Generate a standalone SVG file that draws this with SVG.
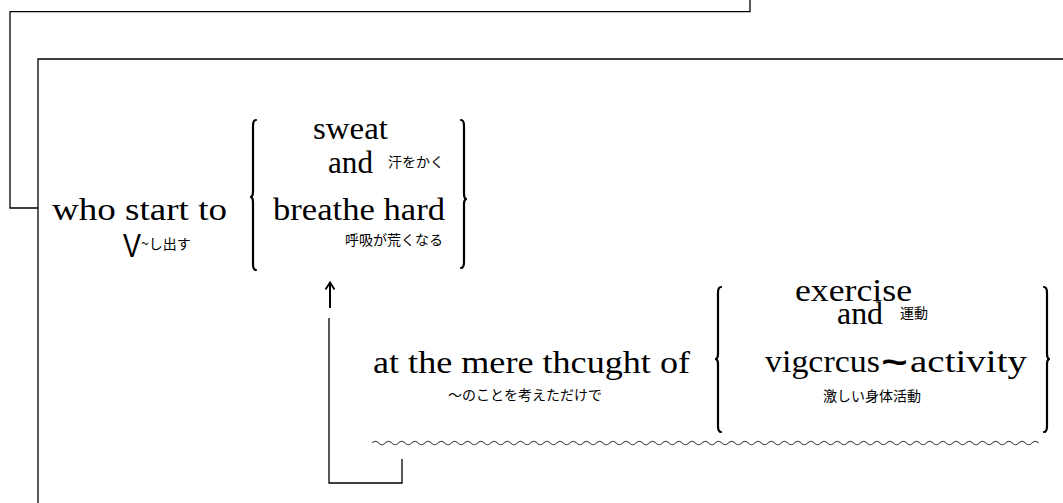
<svg xmlns="http://www.w3.org/2000/svg" width="1063" height="503" viewBox="0 0 1063 503">
<style>
.ln{fill:none;stroke:#000;stroke-width:1.3}
.br{fill:none;stroke:#000;stroke-width:2.2;stroke-linecap:round;stroke-linejoin:round}
.en{font-family:"Liberation Serif",serif;font-size:31px;fill:#000}
.jp{font-family:"Noto Sans CJK JP",sans-serif;font-size:14px;fill:#000}
.wave{fill:none;stroke:#444;stroke-width:1.1}
</style>
<rect width="1063" height="503" fill="#fff"/>
<g id="connectors">
<polyline class="ln" points="750,0 750,11.7 10,11.7 10,208 38,208"/>
<polyline class="ln" points="1063,59 38,59 38,503"/>
<polyline class="ln" points="329,318 329,483 402,483 402,459"/>
<line x1="330" y1="308" x2="330" y2="284" stroke="#000" stroke-width="2"/>
<polyline points="325.5,289.5 330,282.5 334.5,289.5" fill="none" stroke="#000" stroke-width="1.8"/>
<path class="wave" d="M372,443q3.3,-3.6 6.6,0t6.6,0t6.6,0t6.6,0t6.6,0t6.6,0t6.6,0t6.6,0t6.6,0t6.6,0
t6.6,0t6.6,0t6.6,0t6.6,0t6.6,0t6.6,0t6.6,0t6.6,0t6.6,0t6.6,0
t6.6,0t6.6,0t6.6,0t6.6,0t6.6,0t6.6,0t6.6,0t6.6,0t6.6,0t6.6,0
t6.6,0t6.6,0t6.6,0t6.6,0t6.6,0t6.6,0t6.6,0t6.6,0t6.6,0t6.6,0
t6.6,0t6.6,0t6.6,0t6.6,0t6.6,0t6.6,0t6.6,0t6.6,0t6.6,0t6.6,0
t6.6,0t6.6,0t6.6,0t6.6,0t6.6,0t6.6,0t6.6,0t6.6,0t6.6,0t6.6,0
t6.6,0t6.6,0t6.6,0t6.6,0t6.6,0t6.6,0t6.6,0t6.6,0t6.6,0t6.6,0
t6.6,0t6.6,0t6.6,0t6.6,0t6.6,0t6.6,0t6.6,0t6.6,0t6.6,0t6.6,0
t6.6,0t6.6,0t6.6,0t6.6,0t6.6,0t6.6,0t6.6,0t6.6,0t6.6,0t6.6,0
t6.6,0t6.6,0t6.6,0t6.6,0t6.6,0t6.6,0t6.6,0t6.6,0t6.6,0t6.6,0
t6.6,0"/>
</g>
<g id="who-start-to">
<text class="en" x="52" y="220" textLength="175" lengthAdjust="spacingAndGlyphs">who start to</text>
<text x="123" y="257" font-family="Liberation Sans,sans-serif" font-size="33" textLength="18" lengthAdjust="spacingAndGlyphs">V</text>
<text class="jp" x="141" y="249">~し出す</text>
</g>
<g id="brace1">
<path class="br" d="M256,120Q253,120 253,126L253,192Q253,196 251,197Q253,198 253,202L253,264Q253,270 256,270"/>
<path class="br" d="M461,120Q464,120 464,126L464,194Q464,198 466,199Q464,200 464,204L464,262Q464,268 461,268"/>
</g>
<g id="sweat-and-breathe">
<text class="en" x="313" y="139" textLength="75" lengthAdjust="spacingAndGlyphs">sweat</text>
<text class="en" x="328" y="173" textLength="45" lengthAdjust="spacingAndGlyphs">and</text>
<text class="jp" x="388" y="167">汗をかく</text>
<text class="en" x="273" y="220" textLength="172" lengthAdjust="spacingAndGlyphs">breathe hard</text>
<text class="jp" x="345" y="245">呼吸が荒くなる</text>
</g>
<g id="at-the-mere-thought">
<text class="en" x="373" y="373" textLength="317" lengthAdjust="spacingAndGlyphs">at the mere thcught of</text>
<text class="jp" x="448" y="400">～のことを考えただけで</text>
</g>
<g id="brace2">
<path class="br" d="M721,287Q718,287 718,293L718,354Q718,358 716,359Q718,360 718,364L718,426Q718,432 721,432"/>
<path class="br" d="M1044,287Q1047,287 1047,293L1047,354Q1047,358 1049,359Q1047,360 1047,364L1047,426Q1047,432 1044,432"/>
</g>
<g id="exercise-and-activity">
<text class="en" x="795" y="301" font-size="28" textLength="117" lengthAdjust="spacingAndGlyphs">exercise</text>
<text class="en" x="837" y="324" font-size="27" textLength="46" lengthAdjust="spacingAndGlyphs">and</text>
<text class="jp" x="900" y="318">運動</text>
<text class="en" x="765" y="372" textLength="115" lengthAdjust="spacingAndGlyphs">vigcrcus</text>
<text x="881" y="373" font-family="Liberation Mono,monospace" font-weight="bold" font-size="34" textLength="27" lengthAdjust="spacingAndGlyphs">~</text>
<text class="en" x="910" y="372" textLength="117" lengthAdjust="spacingAndGlyphs">activity</text>
<text class="jp" x="823" y="401" font-size="14.5">激しい身体活動</text>
</g>
</svg>
